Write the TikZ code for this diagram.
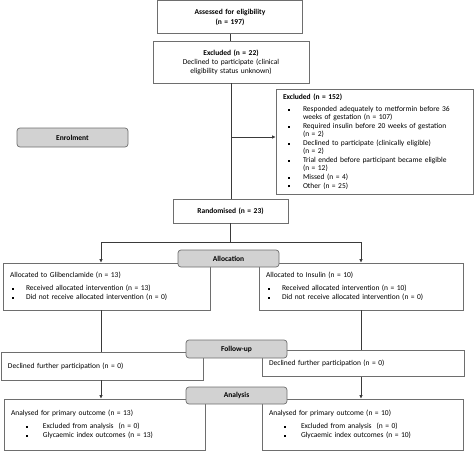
\documentclass[tikz,border=0pt]{standalone}
\usepackage{fontspec}
\setmainfont{Carlito}
\usetikzlibrary{arrows.meta, positioning, calc}
\definecolor{csLine}{HTML}{3A3A3A}
\definecolor{csEdge}{HTML}{6E6E6E}
\definecolor{csTab}{HTML}{D2D2D2}
\tikzset{
  cs-box/.style={
    rectangle, draw=csEdge, fill=white, line width=0.7pt,
    inner xsep=7pt, inner ysep=2pt, align=left,
    font=\fontsize{7.5}{9}\selectfont
  },
  cs-tab/.style={
    rectangle, rounded corners=3pt, draw=csEdge, fill=csTab,
    line width=0.7pt, inner sep=0pt, minimum width=101pt,
    align=center, font=\fontsize{7.5}{8}\selectfont\bfseries
  },
  cs-flow/.style={-{Latex[length=3.5pt,width=3.5pt]}, line width=0.7pt, draw=csLine},
  cs-line/.style={line width=0.7pt, draw=csLine},
}
\newcommand{\sqb}{\rule[0.9pt]{1.9pt}{1.9pt}}
\newcommand{\itm}[1]{\hspace*{5pt}\makebox[15pt][l]{\sqb}#1}
\newcommand{\cnt}[1]{\hspace*{20pt}#1}

\begin{document}
\begin{tikzpicture}[x=1pt, y=-1pt]
  \useasboundingbox (0,0) rectangle (474,452);

  % enrolment
  \node[cs-box, align=center, text width=131pt, minimum height=33pt,
        font=\fontsize{7.5}{10}\selectfont\bfseries]           (assess) at (230,17)
        {Assessed for eligibility\\(n = 197)};
  \node[cs-box, align=center, text width=142pt, minimum height=42pt] (excl22) at (231,62)
        {\textbf{Excluded (n = 22)}\\Declined to participate (clinical\\eligibility status unknown)};
  \node[cs-box, text width=183pt, minimum height=105pt,
        font=\fontsize{7.5}{8.2}\selectfont]                   (excl152) at (374.5,141.5)
        {\textbf{Excluded (n = 152)}\\[4pt]
         \itm{Responded adequately to metformin before 36}\\
         \cnt{weeks of gestation (n = 107)}\\[0.6pt]
         \itm{Required insulin before 20 weeks of gestation}\\
         \cnt{(n = 2)}\\[0.6pt]
         \itm{Declined to participate (clinically eligible)}\\
         \cnt{(n = 2)}\\[0.6pt]
         \itm{Trial ended before participant became eligible}\\
         \cnt{(n = 12)}\\[0.6pt]
         \itm{Missed (n = 4)}\\[0.6pt]
         \itm{Other (n = 25)}};
  \node[cs-box, align=center, text width=101pt, minimum height=24pt,
        font=\fontsize{7.5}{8}\selectfont\bfseries]            (rand) at (230.5,211)
        {Randomised (n = 23)};

  % allocation
  \node[cs-box, text width=193pt, minimum height=47pt]          (glib) at (106.5,286.5)
        {Allocated to Glibenclamide (n = 13)\\[4pt]
         \hspace*{2pt}\makebox[14pt][l]{\sqb}Received allocated intervention (n = 13)\\
         \hspace*{2pt}\makebox[14pt][l]{\sqb}Did not receive allocated intervention (n = 0)};
  \node[cs-box, text width=190pt, minimum height=47pt]          (insu) at (361,286.5)
        {Allocated to Insulin (n = 10)\\[4pt]
         \hspace*{2pt}\makebox[14pt][l]{\sqb}Received allocated intervention (n = 10)\\
         \hspace*{2pt}\makebox[14pt][l]{\sqb}Did not receive allocated intervention (n = 0)};

  % follow-up
  \node[cs-box, text width=188pt, minimum height=28pt]          (decl1) at (102,366)
        {Declined further participation (n = 0)};
  \node[cs-box, text width=188pt, minimum height=26pt]          (decl2) at (363,363.5)
        {Declined further participation (n = 0)\\[2pt]};

  % analysis
  \node[cs-box, text width=187pt, minimum height=51pt]          (an1) at (104.5,424.5)
        {Analysed for primary outcome (n = 13)\\[4pt]
         \hspace*{15pt}\makebox[17pt][l]{\sqb}Excluded from analysis\ \ (n = 0)\\
         \hspace*{15pt}\makebox[17pt][l]{\sqb}Glycaemic index outcomes (n = 13)};
  \node[cs-box, text width=187pt, minimum height=51pt]          (an2) at (362.5,424.5)
        {Analysed for primary outcome (n = 10)\\[4pt]
         \hspace*{15pt}\makebox[17pt][l]{\sqb}Excluded from analysis\ \ (n = 0)\\
         \hspace*{15pt}\makebox[17pt][l]{\sqb}Glycaemic index outcomes (n = 10)};

  % connectors
  \coordinate (gL) at (101,0);
  \coordinate (gR) at (361,0);
  \coordinate (split) at ($(rand.south)+(0,19)$);
  \draw[cs-line] (assess.south) -- (assess.south |- excl22.north);
  \draw[cs-line] (excl22.south) -- (excl22.south |- rand.north);
  \draw[cs-flow] (excl22.south |- 0,137) -- (excl152.west |- 0,137);
  \draw[cs-line] (rand.south) -- (split);
  \draw[cs-line] (gL |- split) -- (gR |- split);
  \draw[cs-flow] (gL |- split) -- (gL |- glib.north);
  \draw[cs-flow] (gR |- split) -- (gR |- insu.north);
  \draw[cs-line] (gL |- glib.south) -- (gL |- decl1.north);
  \draw[cs-line] (gR |- insu.south) -- (gR |- decl2.north);
  \draw[cs-flow] (gL |- decl1.south) -- (gL |- an1.north);
  \draw[cs-flow] (gR |- decl2.south) -- (gR |- an2.north);

  % stage tabs
  \node[cs-tab, minimum width=111pt, minimum height=19pt] (enrol)  at (72.5,137.5) {Enrolment};
  \node[cs-tab, minimum height=17pt]                      (alloc)  at (228.5,258.5) {Allocation};
  \node[cs-tab, minimum height=18pt]                      (follow) at (236.5,349) {Follow-up};
  \node[cs-tab, minimum height=17pt]                      (anal)   at (236.5,395.5) {Analysis};
\end{tikzpicture}
\end{document}
